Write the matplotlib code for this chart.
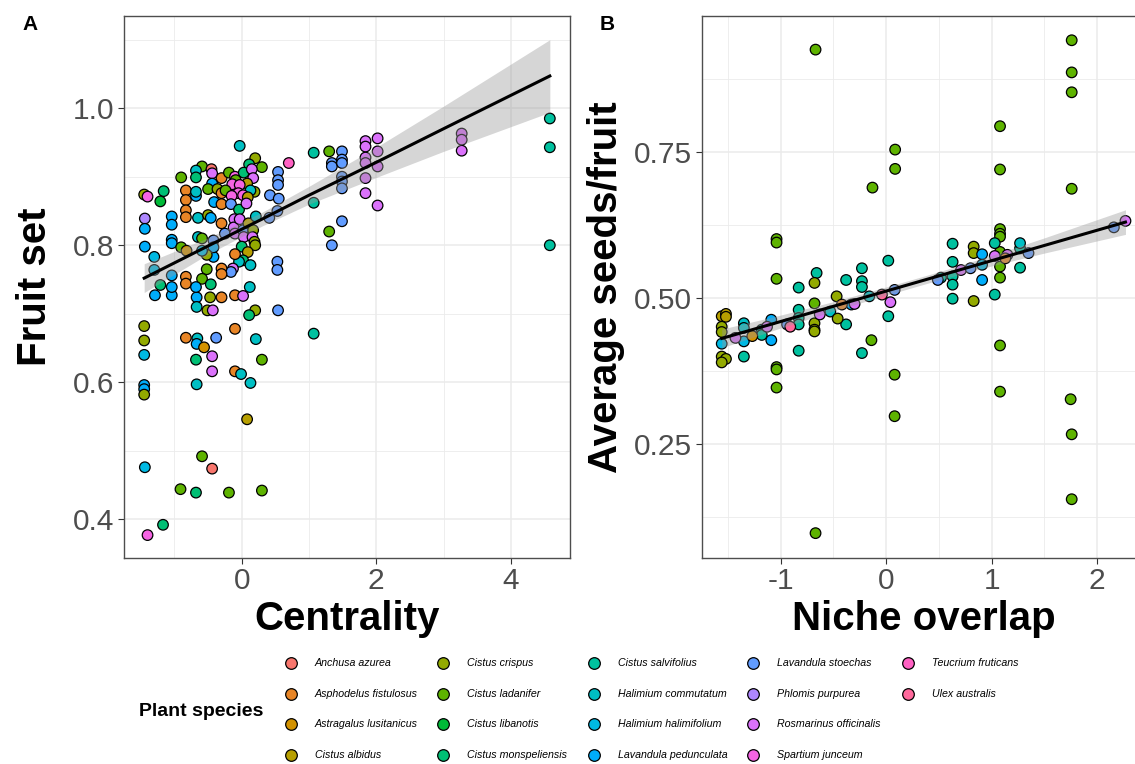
import matplotlib

matplotlib.use("Agg")
import matplotlib.pyplot as plt  # noqa: E402
import matplotlib.ticker as ticker  # noqa: E402

plt.rcParams["font.family"] = ["Liberation Sans", "DejaVu Sans"]
plt.rcParams["axes.unicode_minus"] = False

SPECIES = [
    "Anchusa azurea", "Asphodelus fistulosus", "Astragalus lusitanicus", "Cistus albidus",
    "Cistus crispus", "Cistus ladanifer", "Cistus libanotis", "Cistus monspeliensis",
    "Cistus salvifolius", "Halimium commutatum", "Halimium halimifolium", "Lavandula pedunculata",
    "Lavandula stoechas", "Phlomis purpurea", "Rosmarinus officinalis", "Spartium junceum",
    "Teucrium fruticans", "Ulex australis",
]
COLORS = [
    "#F8766D", "#E88526", "#D39200", "#B79F00", "#93AA00", "#5EB300", "#00BA38", "#00BF74",
    "#00C19F", "#00BFC4", "#00B9E3", "#00ADFA", "#619CFF", "#AE87FF", "#DB72FB", "#F564E3",
    "#FF61C3", "#FF699C",
]

# Panel A: centrality vs fruit set (x, y, species index)
a_x = [1.07, 1.07, 1.07, 1.30, 1.30, 1.49, 1.34, 1.34, 1.49, 1.49, 1.49, 1.49, 1.49, 1.49, 1.34,
       1.84, 2.02, 1.84, 1.84, 1.84, 2.02, 2.02, 1.84, 1.84, 2.02, 3.27, 3.27, 3.27, 4.58, 4.58, 4.58,
       0.70,
       -1.29, -1.04, -0.67, -0.67, -0.47, -0.30, -0.10, 0.02, -0.51, -0.43, 0.20, 0.11, 0.54,
       -1.45, -1.45, -1.45, -0.83, -0.66, -0.67, -0.56, -0.38, -0.10, 0.21,
       -0.68, -0.44, 0.30, -0.44, -0.10, -0.01, 0.13, -0.67,
       -1.45, -1.45, -1.45, 0.08, -1.44, -0.59, -0.44, -0.91, -0.68, -0.19, 0.30, -1.17, -1.40,
       -0.03, 0.20, 0.11, 0.30, -0.59, -0.45, -0.68, -0.44, -0.90, -0.68, -0.30, -0.19, -0.10,
       0.03, 0.15, 0.17, -0.09, 0.08, -0.44, -0.14, -0.03, -0.50, -0.36, -0.30, -0.24, 0.19,
       0.13, -0.05, -0.15, 0.02, 0.09, -0.83, -0.83, -0.68, -0.68, -1.16, -1.21, -1.45, -1.40,
       -0.41, -0.30, -0.16, -0.04, 0.07, -0.11, 0.54, 0.54, 0.54, 0.42, 0.55, 0.53, 0.41,
       -0.83, -0.83, -0.65, -0.50, -0.46, -1.04, -1.04, -1.44, -1.44, -1.44, -1.04, -1.04,
       -0.90, -0.82, -0.65, -0.59, -0.42, -0.30, -0.25, -0.12, -0.03, -0.10, 0.02, 0.10, 0.21,
       0.17, 0.03, 0.16, 0.19, 0.20, 0.00, 0.09, 0.02, -0.04, 0.13, -0.10, -0.13, -0.16, -0.30,
       -0.30, -0.42, -0.42, -0.52, -0.52, -0.59, -0.46, -0.83, -0.83, -1.04, -1.04, -1.30, -1.30,
       -1.21, -0.68, 0.12, 0.53, 0.53, -0.59]
a_y = [0.935, 0.862, 0.671, 0.937, 0.820, 0.937, 0.920, 0.915, 0.925, 0.920, 0.900, 0.893, 0.883,
       0.835, 0.800,
       0.952, 0.956, 0.944, 0.928, 0.920, 0.937, 0.915, 0.898, 0.876, 0.858, 0.963, 0.954, 0.938,
       0.985, 0.943, 0.800,
       0.920,
       0.727, 0.727, 0.724, 0.710, 0.724, 0.724, 0.727, 0.726, 0.705, 0.705, 0.705, 0.698, 0.705,
       0.682, 0.661, 0.640, 0.665, 0.664, 0.656, 0.651, 0.665, 0.678, 0.663,
       0.633, 0.638, 0.633, 0.616, 0.616, 0.612, 0.599, 0.597,
       0.596, 0.590, 0.582, 0.546, 0.476, 0.492, 0.474, 0.444, 0.439, 0.439, 0.442, 0.392, 0.377,
       0.945, 0.927, 0.918, 0.914, 0.915, 0.911, 0.909, 0.905, 0.899, 0.899, 0.898, 0.906, 0.900,
       0.906, 0.911, 0.898, 0.895, 0.890, 0.890, 0.889, 0.888, 0.882, 0.882, 0.876, 0.880, 0.878,
       0.880, 0.876, 0.872, 0.873, 0.870, 0.880, 0.866, 0.872, 0.878, 0.879, 0.864, 0.874, 0.871,
       0.863, 0.860, 0.860, 0.852, 0.861, 0.838, 0.907, 0.895, 0.888, 0.873, 0.868, 0.850, 0.840,
       0.851, 0.841, 0.840, 0.844, 0.840, 0.842, 0.830, 0.839, 0.824, 0.798, 0.808, 0.803,
       0.797, 0.792, 0.812, 0.810, 0.807, 0.832, 0.817, 0.826, 0.838, 0.817, 0.822, 0.832, 0.842,
       0.822, 0.812, 0.812, 0.805, 0.800, 0.798, 0.790, 0.778, 0.776, 0.771, 0.787, 0.766, 0.761,
       0.766, 0.758, 0.783, 0.797, 0.786, 0.765, 0.751, 0.743, 0.754, 0.744, 0.756, 0.739, 0.783,
       0.764, 0.742, 0.739, 0.739, 0.776, 0.764, 0.792]
a_sp = [8, 8, 8, 5, 5, 12, 12, 12, 12, 12, 12, 12, 12, 12, 12,
        14, 14, 14, 14, 14, 14, 14, 14, 14, 14, 14, 14, 14, 8, 8, 8,
        16,
        11, 11, 11, 9, 4, 1, 1, 14, 4, 14, 4, 7, 12,
        4, 4, 10, 1, 9, 11, 2, 12, 1, 9,
        7, 14, 5, 14, 1, 9, 9, 9,
        11, 11, 4, 3, 10, 5, 0, 5, 7, 5, 5, 7, 15,
        9, 4, 7, 5, 5, 0, 9, 14, 5, 7, 1, 5, 15,
        7, 14, 14, 5, 3, 11, 15, 15, 5, 4, 1, 5, 4,
        9, 15, 15, 15, 3, 1, 1, 11, 9, 7, 6, 4, 15,
        11, 1, 12, 7, 14, 14, 12, 12, 12, 12, 12, 12, 12,
        1, 1, 9, 4, 11, 11, 11, 13, 11, 11, 11, 11,
        5, 2, 9, 5, 12, 1, 12, 14, 14, 14, 12, 3, 9,
        4, 14, 14, 4, 4, 7, 3, 7, 9, 9, 1, 14, 12, 1,
        1, 11, 11, 4, 5, 5, 7, 1, 1, 11, 11, 10, 10,
        7, 11, 9, 12, 12, 10]

# Panel A fitted line with confidence band
a_fit_x = [-1.45, -0.5, 0.3, 1.0, 2.0, 3.0, 4.58]
a_fit_y = [0.752, 0.799, 0.838, 0.873, 0.921, 0.970, 1.047]
a_fit_lo = [0.731, 0.787, 0.828, 0.860, 0.899, 0.937, 0.994]
a_fit_hi = [0.773, 0.811, 0.848, 0.886, 0.943, 1.003, 1.100]

# Panel B: niche overlap vs average seeds per fruit
b_x = [-0.67, 1.76, 1.76, 1.76, 1.76, 1.08, 1.08, 1.08, 1.08, 0.085, 0.085, -0.13, -1.04, -1.04,
       -1.04, -0.14, 0.08, 0.08, -1.04, -1.04, -1.04, 1.08, 1.08, 1.08, 1.08, 1.08, 1.08, 1.75,
       1.76, 1.76, -0.67, -0.68,
       -0.66, -0.83, -0.38, -0.23, -0.23, -0.23, 0.02, 0.02, -0.23, -0.83, -1.35, -0.83, -0.83,
       -0.83, -0.38, -1.18, -1.18, 0.63, 0.63, 0.63, 0.63, 0.63, 1.03, 1.03, 1.27, 1.27, 0.52,
       -1.35, -1.35, -0.53, 1.27, -0.16,
       -0.68, -1.56, -1.52, -1.52, -1.56, -1.56, -1.56, -1.52, -1.56, -0.68, -0.68, -0.68, -0.47,
       -0.46, 0.83, 0.83, 0.83,
       -1.56, -1.35, -1.09, -1.09, -0.33, 0.91, 0.91, 0.91,
       -1.43, -1.13, -0.63, -0.30, 0.04, 0.71, 1.03, 1.15, 2.27,
       -0.94, 0.08, 0.49, 0.80, 1.35, 2.16,
       -0.91, -0.04, -1.27, -0.42, 1.13]
b_y = [0.925, 0.941, 0.886, 0.852, 0.687, 0.794, 0.720, 0.618, 0.610, 0.754, 0.721, 0.689, 0.601,
       0.595, 0.533, 0.428, 0.369, 0.298, 0.382, 0.378, 0.347, 0.605, 0.579, 0.554, 0.535, 0.419,
       0.340, 0.327, 0.267, 0.156, 0.098, 0.491,
       0.543, 0.518, 0.531, 0.551, 0.529, 0.519, 0.564, 0.469, 0.406, 0.410, 0.400, 0.480, 0.466,
       0.455, 0.455, 0.446, 0.437, 0.593, 0.562, 0.537, 0.523, 0.499, 0.594, 0.506, 0.585, 0.552,
       0.535,
       0.457, 0.449, 0.477, 0.594, 0.503,
       0.526, 0.469, 0.473, 0.468, 0.451, 0.442, 0.400, 0.396, 0.390, 0.457, 0.446, 0.443, 0.503,
       0.465, 0.588, 0.577, 0.495,
       0.422, 0.426, 0.463, 0.428, 0.489, 0.575, 0.557, 0.531,
       0.432, 0.451, 0.472, 0.490, 0.493, 0.548, 0.572, 0.574, 0.632,
       0.455, 0.514, 0.531, 0.551, 0.577, 0.621,
       0.451, 0.506, 0.435, 0.489, 0.568]
b_sp = [5] * 32 + [8] * 27 + [9] * 5 + [4, 3, 3, 3, 4, 4, 4, 4, 4, 4, 4, 4, 4, 4, 4, 4, 4] + \
       [10, 10, 11, 11, 11, 11, 10, 11] + [14] * 9 + [12] * 6 + [17, 17, 2, 1, 1]

b_fit_x = [-1.56, -1.0, -0.5, 0.0, 0.5, 1.0, 1.5, 2.27]
b_fit_y = [0.431, 0.460, 0.486, 0.512, 0.538, 0.564, 0.590, 0.630]
b_fit_lo = [0.415, 0.449, 0.478, 0.505, 0.531, 0.555, 0.577, 0.609]
b_fit_hi = [0.447, 0.471, 0.494, 0.519, 0.545, 0.573, 0.603, 0.651]

W, H = 1135, 764
fig = plt.figure(figsize=(W / 100, H / 100), dpi=100)
fig.patch.set_facecolor("white")


def px_box(left, right, top, bottom):
    return [left / W, 1 - bottom / H, (right - left) / W, (bottom - top) / H]


def style_axes(ax):
    ax.set_facecolor("white")
    ax.grid(True, which="major", color="#EBEBEB", linewidth=1.1, zorder=0)
    ax.grid(True, which="minor", color="#EBEBEB", linewidth=0.6, zorder=0)
    ax.set_axisbelow(True)
    for s in ax.spines.values():
        s.set_color("#4d4d4d")
        s.set_linewidth(1.0)
    ax.tick_params(which="major", length=4, width=0.8, color="#333333",
                   labelsize=21.5, labelcolor="#4D4D4D", pad=3)
    ax.tick_params(which="minor", length=0)


def draw_panel(ax, xs, ys, sps, fx, fy, flo, fhi):
    cols = [COLORS[s] for s in sps]
    ax.scatter(xs, ys, s=58, c=cols, edgecolors="black", linewidths=0.9, zorder=3)
    ax.fill_between(fx, flo, fhi, color="#999999", alpha=0.4, linewidth=0, zorder=4)
    ax.plot(fx, fy, color="black", linewidth=2.2, zorder=5)


ax_a = fig.add_axes(px_box(124, 570, 15.7, 557.7))
style_axes(ax_a)
draw_panel(ax_a, a_x, a_y, a_sp, a_fit_x, a_fit_y, a_fit_lo, a_fit_hi)
ax_a.set_xlim(-1.75, 4.88)
ax_a.set_ylim(0.344, 1.135)
ax_a.xaxis.set_major_locator(ticker.FixedLocator([0, 2, 4]))
ax_a.xaxis.set_minor_locator(ticker.FixedLocator([-1, 1, 3]))
ax_a.yaxis.set_major_locator(ticker.FixedLocator([0.4, 0.6, 0.8, 1.0]))
ax_a.yaxis.set_minor_locator(ticker.FixedLocator([0.5, 0.7, 0.9, 1.1]))
ax_a.yaxis.set_major_formatter(ticker.FormatStrFormatter("%.1f"))
ax_a.set_xlabel("Centrality", fontsize=29, fontweight="bold")
ax_a.set_ylabel("Fruit set", fontsize=29, fontweight="bold")
ax_a.xaxis.set_label_coords(0.5, -0.078)
ax_a.yaxis.set_label_coords(-0.158, 0.5)

ax_b = fig.add_axes(px_box(701.7, 1145.5, 15.7, 557.7))
style_axes(ax_b)
draw_panel(ax_b, b_x, b_y, b_sp, b_fit_x, b_fit_y, b_fit_lo, b_fit_hi)
ax_b.set_xlim(-1.75, 2.46)
ax_b.set_ylim(0.056, 0.983)
ax_b.xaxis.set_major_locator(ticker.FixedLocator([-1, 0, 1, 2]))
ax_b.xaxis.set_minor_locator(ticker.FixedLocator([-1.5, -0.5, 0.5, 1.5]))
ax_b.yaxis.set_major_locator(ticker.FixedLocator([0.25, 0.5, 0.75]))
ax_b.yaxis.set_minor_locator(ticker.FixedLocator([0.125, 0.375, 0.625, 0.875]))
ax_b.yaxis.set_major_formatter(ticker.FormatStrFormatter("%.2f"))
ax_b.set_xlabel("Niche overlap", fontsize=29, fontweight="bold")
ax_b.set_ylabel("Average seeds/fruit", fontsize=29, fontweight="bold")
ax_b.xaxis.set_label_coords(0.5, -0.078)
ax_b.yaxis.set_label_coords(-0.172, 0.5)

fig.text(30 / W, 1 - 25 / H, "A", fontsize=15, fontweight="bold", ha="center", va="center")
fig.text(607 / W, 1 - 25 / H, "B", fontsize=15, fontweight="bold", ha="center", va="center")

# Legend laid out like the ggplot guide: 4 rows, filled column by column
lax = fig.add_axes([0, 0, 1, 1], zorder=10)
lax.set_xlim(0, W)
lax.set_ylim(H, 0)
lax.axis("off")
lax.patch.set_alpha(0)
col_x = [291, 443, 594, 753, 908]
row_y = [663, 694, 724, 755]
for i, (name, col) in enumerate(zip(SPECIES, COLORS)):
    cx = col_x[i // 4]
    cy = row_y[i % 4]
    lax.scatter([cx], [cy], s=70, c=col, edgecolors="black", linewidths=0.9)
    lax.text(cx + 24, cy, name, fontsize=7.7, style="italic", ha="left", va="center")
lax.text(139, 711, "Plant species", fontsize=14, fontweight="bold", ha="left", va="center")

fig.savefig("out.png", dpi=100)
